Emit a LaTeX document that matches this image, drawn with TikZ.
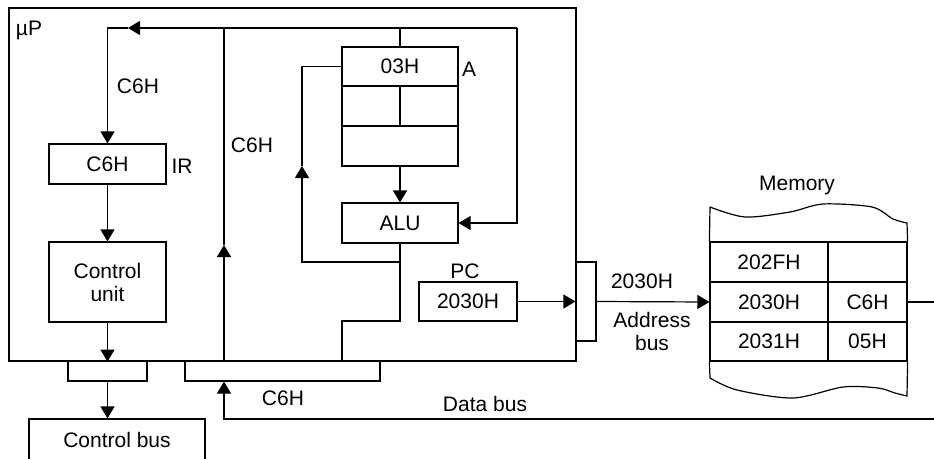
\documentclass[tikz,border=0pt]{standalone}
\usepackage{fontspec}
\setmainfont{Liberation Sans}
\usetikzlibrary{arrows.meta}
\begin{document}
\begin{tikzpicture}[x=1pt,y=-1pt,line width=1.2pt,
  every node/.style={font=\fontsize{21}{23}\selectfont,inner sep=0pt},
  blk/.style={draw,line width=1.2pt},
  arr/.style={-{Triangle[length=12pt,width=14pt]}},
  lbl/.style={anchor=base}]
\clip (0,0) rectangle (934,458);
\fill[white] (0,0) rectangle (934,458);
% microprocessor frame
\node[blk,minimum width=567pt,minimum height=353pt] (up) at (292.5,184.5) {};
\node[lbl] (uplbl) at (29,35) {µP};
% boxes
\node[blk,minimum width=117pt,minimum height=40pt] (ir) at (107.5,164) {C6H};
\node[lbl] (irlbl) at (182,173) {IR};
\node[blk,minimum width=117pt,minimum height=80pt,align=center] (cu) at (107.5,282) {Control\\unit};
\node[blk,minimum width=79pt,minimum height=20pt] (cc) at (107.5,371) {};
\node[blk,minimum width=176pt,minimum height=42pt] (cb) at (117,440) {Control bus};
\node[blk,minimum width=195pt,minimum height=20pt] (dc) at (282.5,371) {};
\node[blk,minimum width=116pt,minimum height=39pt] (a1) at (400,66.5) {03H};
\node[blk,minimum width=116pt,minimum height=40pt] (a2) at (400,106) {};
\node[blk,minimum width=116pt,minimum height=40pt] (a3) at (400,146) {};
\node[lbl] (albl) at (469,76) {A};
\node[blk,minimum width=116pt,minimum height=40pt] (alu) at (400,223) {ALU};
\node[blk,minimum width=98pt,minimum height=39pt] (pc) at (468,301.5) {2030H};
\node[lbl] (pclbl) at (465,278) {PC};
\node[blk,minimum width=20pt,minimum height=79pt] (ac) at (586,301.5) {};
% memory
\node[blk,minimum width=118pt,minimum height=40pt] (m1a) at (769,262) {202FH};
\node[blk,minimum width=79pt,minimum height=40pt] (m1b) at (867.5,262) {};
\node[blk,minimum width=118pt,minimum height=40pt] (m2a) at (769,302) {2030H};
\node[blk,minimum width=79pt,minimum height=40pt] (m2b) at (867.5,302) {C6H};
\node[blk,minimum width=118pt,minimum height=39pt] (m3a) at (769,341.5) {2031H};
\node[blk,minimum width=79pt,minimum height=39pt] (m3b) at (867.5,341.5) {05H};
\node[lbl] (memlbl) at (797,190) {Memory};
\draw (m1a.north west) -- (710,207)
  plot[smooth] coordinates {(710,207) (745,217) (790,212) (823,204) (872,207) (893,219) (907,223)}
  -- (m1b.north east);
\draw (m3a.south west) -- (710,378)
  plot[smooth] coordinates {(710,378) (737,390) (793,398) (843,387) (878,388) (895,393) (907,396)}
  -- (m3b.south east);
% labels
\node[lbl] (l1) at (138,93) {C6H};
\node[lbl] (l2) at (252,152) {C6H};
\node[lbl] (l3) at (283,405) {C6H};
\node[lbl] (l4) at (485,411) {Data bus};
\node[lbl] (l5) at (642,288) {2030H};
\node[lbl] (l6a) at (652,327) {Address};
\node[lbl] (l6b) at (652,350) {bus};
% coordinates
\coordinate (jt) at (224,28);
\coordinate (jr) at (517,28);
\coordinate (jl) at (107.5,28);
\coordinate (ma) at (128,28);
\coordinate (mv) at (224,245);
\coordinate (fb) at (400,262);
\coordinate (fl) at (302,262);
\coordinate (fa) at (302,166);
\coordinate (ab) at (400,321);
\coordinate (ac2) at (342,321);
\coordinate (db) at (934,419);
\coordinate (mo) at (934,302);
% connectors
\draw[arr] (jt |- up.south) -- (mv);
\draw (mv) -- (jt);
\draw[arr] (jr) -- (ma);
\draw[arr] (ma) -- (jl) -- (ir.north);
\draw[arr] (jr) |- (alu.east);
\draw (a1.north |- jt) -- (a1.north);
\draw (a2.north) -- (a2.south);
\draw[arr] (a3.south) -- (alu.north);
\draw (alu.south) -- (ab) -- (ac2) -- (ac2 |- up.south);
\draw[arr] (fb) -- (fl) -- (fa);
\draw (fa) |- (a1.west);
\draw[arr] (ir.south) -- (cu.north);
\draw[arr] (cu.south) -- (cu.south |- up.south);
\draw[arr] (cc.south) -- (cc.south |- cb.north);
\draw[arr] (db) -- (db -| jt) -- (jt |- dc.south);
\draw[arr] (pc.east) -- (ac.west);
\draw[arr] (ac.east) -- (m2a.west);
\draw (m2b.east) -- (mo);
\end{tikzpicture}
\end{document}
